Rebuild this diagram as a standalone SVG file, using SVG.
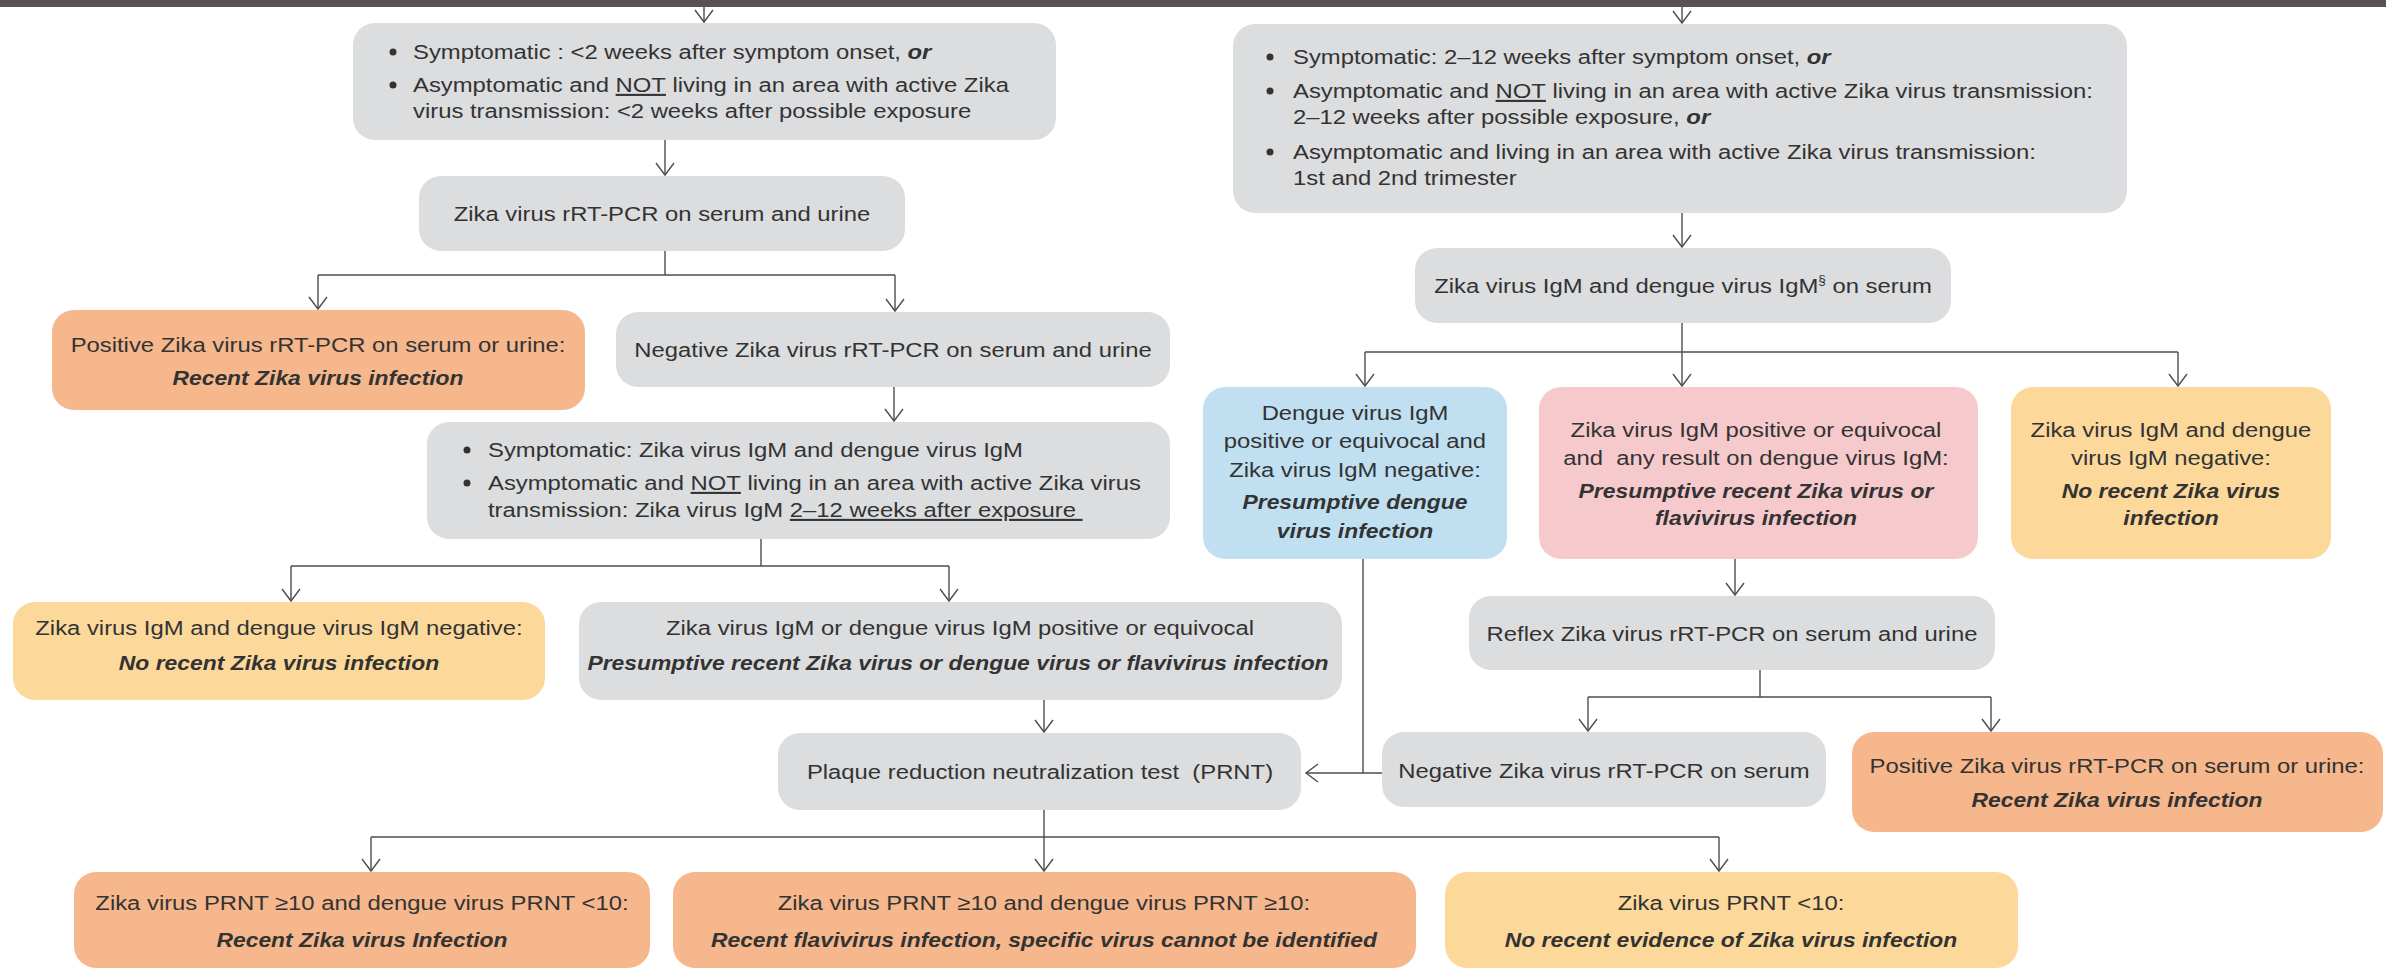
<svg xmlns="http://www.w3.org/2000/svg" width="2386" height="969" viewBox="0 0 2386 969">
<defs>
<style>
.gray{fill:#dcdddf}
.orange{fill:#f6b78d}
.yellow{fill:#fcd99b}
.blue{fill:#c0e0f2}
.pink{fill:#f6c9cc}
.t{font-family:"Liberation Sans",Arial,sans-serif;font-size:21px;fill:#333;transform-box:fill-box;transform-origin:50% 50%;transform:scaleX(1.135)}
.c{text-anchor:middle}
.l{transform-origin:0% 50%}
.bi{font-weight:bold;font-style:italic;transform:scaleX(1.09)}
.b{font-weight:bold;font-style:italic}
.u{text-decoration:underline}
.dot{fill:#333}
.cn path{fill:none;stroke:#4d4d4d;stroke-width:1.4}
</style>
<marker id="ah" markerWidth="16" markerHeight="24" viewBox="-14 -12 16 24" refX="0" refY="0" orient="auto" markerUnits="userSpaceOnUse">
<path d="M-12,-9 L0,0 L-12,9" fill="none" stroke="#4d4d4d" stroke-width="1.4"/>
</marker>
</defs>
<rect x="0" y="0" width="2386" height="969" fill="#ffffff"/>
<rect x="0" y="0" width="2386" height="7" fill="#5c5152"/>

<g id="nodeA">
<rect class="gray" x="353" y="23" width="703" height="117" rx="22"/>
<circle class="dot" cx="393" cy="52" r="3.5"/>
<circle class="dot" cx="393" cy="85" r="3.5"/>
<text class="t l" x="413" y="59">Symptomatic : &lt;2 weeks after symptom onset, <tspan class="b">or</tspan></text>
<text class="t l" x="413" y="92">Asymptomatic and <tspan class="u">NOT</tspan> living in an area with active Zika</text>
<text class="t l" x="413" y="118">virus transmission: &lt;2 weeks after possible exposure</text>
</g>

<g id="nodeB">
<rect class="gray" x="419" y="176" width="486" height="75" rx="22"/>
<text class="t c" x="662" y="221">Zika virus rRT-PCR on serum and urine</text>
</g>

<g id="nodeC">
<rect class="orange" x="52" y="310" width="533" height="100" rx="22"/>
<text class="t c" x="318" y="352">Positive Zika virus rRT-PCR on serum or urine:</text>
<text class="t c bi" x="318" y="385">Recent Zika virus infection</text>
</g>

<g id="nodeD">
<rect class="gray" x="616" y="312" width="554" height="75" rx="22"/>
<text class="t c" x="893" y="357">Negative Zika virus rRT-PCR on serum and urine</text>
</g>

<g id="nodeE">
<rect class="gray" x="427" y="422" width="743" height="117" rx="22"/>
<circle class="dot" cx="467" cy="450" r="3.5"/>
<circle class="dot" cx="467" cy="483" r="3.5"/>
<text class="t l" x="488" y="457">Symptomatic: Zika virus IgM and dengue virus IgM</text>
<text class="t l" x="488" y="490">Asymptomatic and <tspan class="u">NOT</tspan> living in an area with active Zika virus</text>
<text class="t l" x="488" y="517">transmission: Zika virus IgM <tspan class="u">2–12 weeks after exposure&#160;</tspan></text>
</g>

<g id="nodeF">
<rect class="yellow" x="13" y="602" width="532" height="98" rx="22"/>
<text class="t c" x="279" y="635">Zika virus IgM and dengue virus IgM negative:</text>
<text class="t c bi" x="279" y="670">No recent Zika virus infection</text>
</g>

<g id="nodeG">
<rect class="gray" x="579" y="602" width="763" height="98" rx="22"/>
<text class="t c" x="960" y="635">Zika virus IgM or dengue virus IgM positive or equivocal</text>
<text class="t c bi" x="958" y="670">Presumptive recent Zika virus or dengue virus or flavivirus infection</text>
</g>

<g id="nodeH">
<rect class="gray" x="778" y="733" width="523" height="77" rx="22"/>
<text class="t c" x="1040" y="779">Plaque reduction neutralization test&#160; (PRNT)</text>
</g>

<g id="nodeI">
<rect class="orange" x="74" y="872" width="576" height="96" rx="22"/>
<text class="t c" x="362" y="910">Zika virus PRNT ≥10 and dengue virus PRNT &lt;10:</text>
<text class="t c bi" x="362" y="947">Recent Zika virus Infection</text>
</g>

<g id="nodeJ">
<rect class="orange" x="673" y="872" width="743" height="96" rx="22"/>
<text class="t c" x="1044" y="910">Zika virus PRNT ≥10 and dengue virus PRNT ≥10:</text>
<text class="t c bi" x="1044" y="947">Recent flavivirus infection, specific virus cannot be identified</text>
</g>

<g id="nodeK">
<rect class="yellow" x="1445" y="872" width="573" height="96" rx="22"/>
<text class="t c" x="1731" y="910">Zika virus PRNT &lt;10:</text>
<text class="t c bi" x="1731" y="947">No recent evidence of Zika virus infection</text>
</g>

<g id="nodeR1">
<rect class="gray" x="1233" y="24" width="894" height="189" rx="22"/>
<circle class="dot" cx="1270" cy="57" r="3.5"/>
<circle class="dot" cx="1270" cy="91" r="3.5"/>
<circle class="dot" cx="1270" cy="152" r="3.5"/>
<text class="t l" x="1293" y="64">Symptomatic: 2–12 weeks after symptom onset, <tspan class="b">or</tspan></text>
<text class="t l" x="1293" y="98">Asymptomatic and <tspan class="u">NOT</tspan> living in an area with active Zika virus transmission:</text>
<text class="t l" x="1293" y="124">2–12 weeks after possible exposure, <tspan class="b">or</tspan></text>
<text class="t l" x="1293" y="159">Asymptomatic and living in an area with active Zika virus transmission:</text>
<text class="t l" x="1293" y="185">1st and 2nd trimester</text>
</g>

<g id="nodeR2">
<rect class="gray" x="1415" y="248" width="536" height="75" rx="22"/>
<text class="t c" x="1683" y="293">Zika virus IgM and dengue virus IgM<tspan font-size="12" dy="-9">§</tspan><tspan dy="9"> on serum</tspan></text>
</g>

<g id="nodeR3">
<rect class="blue" x="1203" y="387" width="304" height="172" rx="22"/>
<text class="t c" x="1355" y="420">Dengue virus IgM</text>
<text class="t c" x="1355" y="448">positive or equivocal and</text>
<text class="t c" x="1355" y="477">Zika virus IgM negative:</text>
<text class="t c bi" x="1355" y="509">Presumptive dengue</text>
<text class="t c bi" x="1355" y="538">virus infection</text>
</g>

<g id="nodeR4">
<rect class="pink" x="1539" y="387" width="439" height="172" rx="22"/>
<text class="t c" x="1756" y="437">Zika virus IgM positive or equivocal</text>
<text class="t c" x="1756" y="465">and&#160; any result on dengue virus IgM:</text>
<text class="t c bi" x="1756" y="498">Presumptive recent Zika virus or</text>
<text class="t c bi" x="1756" y="525">flavivirus infection</text>
</g>

<g id="nodeR5">
<rect class="yellow" x="2011" y="387" width="320" height="172" rx="22"/>
<text class="t c" x="2171" y="437">Zika virus IgM and dengue</text>
<text class="t c" x="2171" y="465">virus IgM negative:</text>
<text class="t c bi" x="2171" y="498">No recent Zika virus</text>
<text class="t c bi" x="2171" y="525">infection</text>
</g>

<g id="nodeR6">
<rect class="gray" x="1469" y="596" width="526" height="74" rx="22"/>
<text class="t c" x="1732" y="641">Reflex Zika virus rRT-PCR on serum and urine</text>
</g>

<g id="nodeR7">
<rect class="gray" x="1382" y="732" width="444" height="75" rx="22"/>
<text class="t c" x="1604" y="778">Negative Zika virus rRT-PCR on serum</text>
</g>

<g id="nodeR8">
<rect class="orange" x="1852" y="732" width="531" height="100" rx="22"/>
<text class="t c" x="2117" y="773">Positive Zika virus rRT-PCR on serum or urine:</text>
<text class="t c bi" x="2117" y="807">Recent Zika virus infection</text>
</g>

<g id="connectors" class="cn">
<path d="M704,7 V22" marker-end="url(#ah)"/>
<path d="M665,140 V175" marker-end="url(#ah)"/>
<path d="M665,251 V275"/>
<path d="M318,275 H895"/>
<path d="M318,275 V309" marker-end="url(#ah)"/>
<path d="M895,275 V311" marker-end="url(#ah)"/>
<path d="M894,387 V421" marker-end="url(#ah)"/>
<path d="M761,539 V566"/>
<path d="M291,566 H949"/>
<path d="M291,566 V601" marker-end="url(#ah)"/>
<path d="M949,566 V601" marker-end="url(#ah)"/>
<path d="M1044,700 V732" marker-end="url(#ah)"/>
<path d="M1044,810 V837"/>
<path d="M371,837 H1719"/>
<path d="M371,837 V871" marker-end="url(#ah)"/>
<path d="M1044,837 V871" marker-end="url(#ah)"/>
<path d="M1719,837 V871" marker-end="url(#ah)"/>
<path d="M1682,7 V23" marker-end="url(#ah)"/>
<path d="M1682,213 V247" marker-end="url(#ah)"/>
<path d="M1682,323 V352"/>
<path d="M1365,352 H2178"/>
<path d="M1365,352 V386" marker-end="url(#ah)"/>
<path d="M1682,352 V386" marker-end="url(#ah)"/>
<path d="M2178,352 V386" marker-end="url(#ah)"/>
<path d="M1735,559 V595" marker-end="url(#ah)"/>
<path d="M1760,670 V697"/>
<path d="M1588,697 H1991"/>
<path d="M1588,697 V731" marker-end="url(#ah)"/>
<path d="M1991,697 V731" marker-end="url(#ah)"/>
<path d="M1363,559 V773"/>
<path d="M1382,773 H1306" marker-end="url(#ah)"/>
</g>
</svg>
